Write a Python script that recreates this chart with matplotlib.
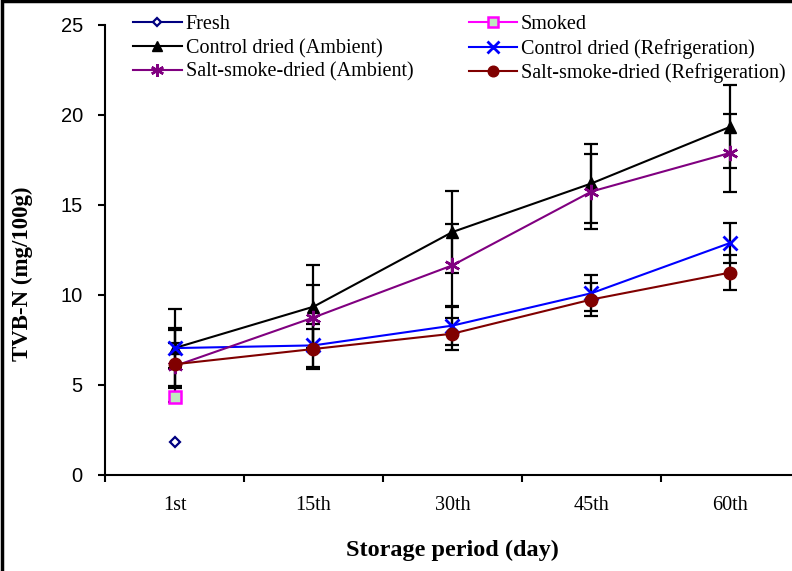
import matplotlib.pyplot as plt
from matplotlib.patches import Rectangle

days = ['1st', '15th', '30th', '45th', '60th']
x = [1, 2, 3, 4, 5]

fresh = [1.85]
smoked = [4.35]
ctrl_amb = [7.05, 9.35, 13.5, 16.2, 19.35]
ctrl_amb_err = [2.2, 2.3, 2.3, 2.2, 2.3]
ctrl_ref = [7.05, 7.2, 8.3, 10.1, 12.9]
ctrl_ref_err = [1.1, 1.2, 1.1, 1.0, 1.1]
ssd_amb = [6.05, 8.75, 11.65, 15.75, 17.9]
ssd_amb_err = [2.0, 1.8, 2.3, 2.1, 2.15]
ssd_ref = [6.15, 7.0, 7.85, 9.75, 11.25]
ssd_ref_err = [1.2, 1.1, 0.9, 0.9, 0.95]

W, H = 792, 571
fig = plt.figure(figsize=(W / 100, H / 100), dpi=100)
ax = fig.add_axes([105 / W, 1 - 475 / H, 695 / W, 450 / H])

serif = 'Liberation Serif'
sans = 'Liberation Sans'

eb = dict(ecolor='black', elinewidth=1.6, capsize=5, capthick=1.6, zorder=2)
for y, e in [(ctrl_amb, ctrl_amb_err), (ctrl_ref, ctrl_ref_err),
             (ssd_amb, ssd_amb_err), (ssd_ref, ssd_ref_err)]:
    ax.errorbar(x, y, yerr=e, fmt='none', **eb)

h_fresh, = ax.plot([1], fresh, color='#000080', marker='D', markersize=5,
                   markerfacecolor='white', markeredgewidth=1.6, lw=1.5, zorder=4)
h_smoked, = ax.plot([1], smoked, color='#FF00FF', marker='s', markersize=8,
                    markerfacecolor='#bfe8bf', markeredgewidth=1.8, lw=1.5, zorder=4)
h_ca, = ax.plot(x, ctrl_amb, color='black', marker='^', markersize=8, lw=1.5, zorder=3)
h_cr, = ax.plot(x, ctrl_ref, color='#0000FF', marker='x', markersize=10,
                markeredgewidth=2, lw=1.5, zorder=3)
h_sa, = ax.plot(x, ssd_amb, color='#800080', marker=(6, 2, 0), markersize=11,
                markeredgewidth=1.8, lw=1.5, zorder=3)
h_sr, = ax.plot(x, ssd_ref, color='#800000', marker='o', markersize=9, lw=1.5, zorder=3)

ax.set_xlim(0.5, 5.5)
ax.set_ylim(0, 25)
ax.set_yticks([0, 5, 10, 15, 20, 25])
ax.set_xticks([0.5, 1.5, 2.5, 3.5, 4.5, 5.5])
ax.set_xticklabels([])
ax.set_xticks(x, minor=True)
ax.set_xticklabels(days, minor=True, fontfamily=serif, fontsize=14.5)
ax.tick_params(axis='x', which='minor', length=0, pad=15)
ax.tick_params(axis='x', which='major', length=5, width=1.5, direction='out')
ax.tick_params(axis='y', length=5, width=1.5, direction='out', pad=11)
for lbl in ax.get_yticklabels():
    lbl.set_fontfamily(sans)
    lbl.set_fontsize(14.5)

for s in ['top', 'right']:
    ax.spines[s].set_visible(False)
for s in ['left', 'bottom']:
    ax.spines[s].set_linewidth(1.5)

ax.set_ylabel('TVB-N (mg/100g)', fontfamily=serif, fontweight='bold', fontsize=16.5)
ax.yaxis.set_label_coords(-0.103, 0.447)
ax.set_xlabel('Storage period (day)', fontfamily=serif, fontweight='bold', fontsize=17.5, labelpad=18)

leg = ax.legend([h_fresh, h_ca, h_sa, h_smoked, h_cr, h_sr],
                ['Fresh', 'Control dried (Ambient)', 'Salt-smoke-dried (Ambient)',
                 'Smoked', 'Control dried (Refrigeration)', 'Salt-smoke-dried (Refrigeration)'],
                ncol=2, loc='upper left', bbox_to_anchor=(0.029, 1.04), frameon=False,
                prop={'family': serif, 'size': 14.5}, handlelength=2.4, handletextpad=0.2,
                columnspacing=2.75, labelspacing=0.23, borderaxespad=0)
for hl in leg.legend_handles:
    hl.set_markersize(hl.get_markersize() * 0.85)

fig.add_artist(Rectangle((0.002, -0.01), 1.1, 1.0 - 0.002 + 0.01, transform=fig.transFigure,
                         fill=False, edgecolor='black', lw=2.5))

fig.savefig('out.png', dpi=100)
